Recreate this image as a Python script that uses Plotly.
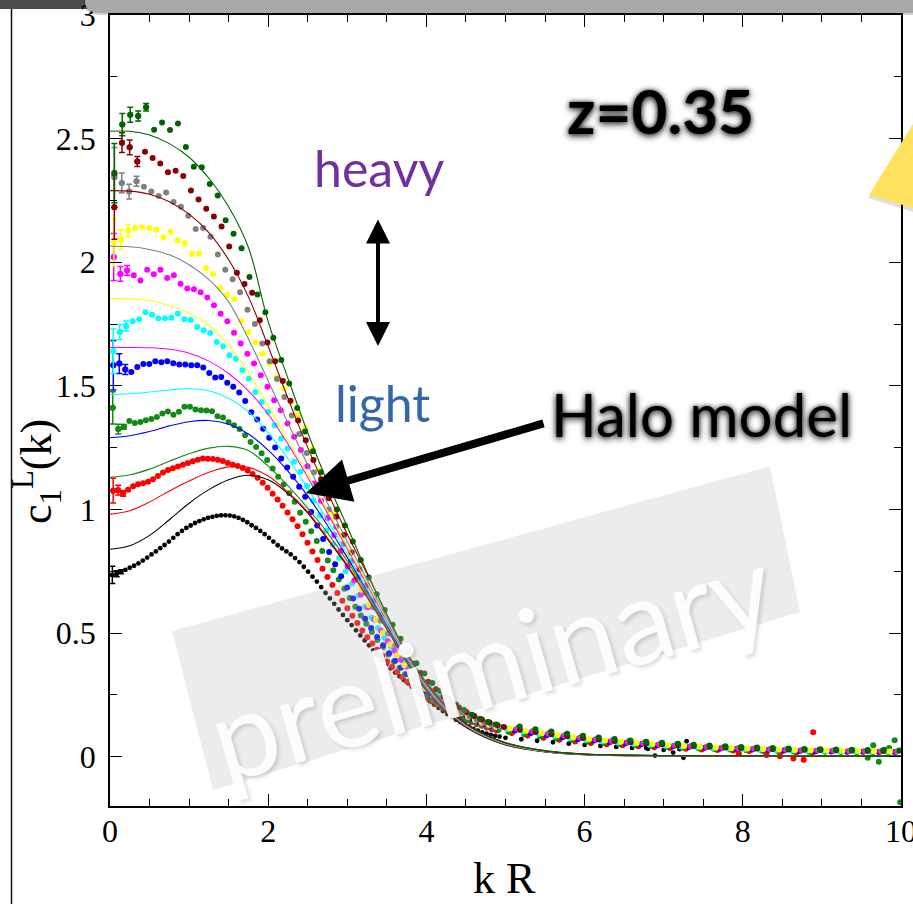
import plotly.graph_objects as go

W, H = 913, 904

# ---------------------------------------------------------------
# Measured c1^L(k) per mass bin (light -> heavy).
# Each bin: values on its own linear kR grid (start, step),
# then values on the tail grid (shifted per bin, since each bin has
# its own R), plus a few scattered points.
# ---------------------------------------------------------------
TAIL_K = [5.1, 5.3, 5.5, 5.7, 5.9, 6.1, 6.3, 6.5, 6.7, 6.9, 7.1, 7.3, 7.5,
          7.7, 7.9, 8.1, 8.3, 8.5, 8.7, 8.9, 9.1, 9.3, 9.5, 9.7, 9.9]

BIN_COLORS = ["#000000", "#ff0000", "#138a13", "#0000ff", "#00ffff",
              "#ff00ff", "#ffff00", "#808080", "#8b0000", "#006400"]
BIN_K0 = [0.03, 0.04, 0.035, 0.042, 0.042, 0.047, 0.05, 0.055, 0.055, 0.055]
BIN_DK = [0.055, 0.063, 0.0697, 0.0758, 0.0816, 0.0845, 0.0895, 0.0935, 0.0968, 0.1005]
BIN_TAIL_SHIFT = [-0.1, -0.02, -0.06, 0.02, -0.08, 0.04, -0.04, 0.06, -0.12, 0.08]

BLACK = [0.735, 0.740, 0.748, 0.755, 0.764, 0.772, 0.782, 0.793, 0.805, 0.818,
         0.830, 0.843, 0.856, 0.870, 0.885, 0.900, 0.913, 0.925, 0.935, 0.945,
         0.953, 0.960, 0.966, 0.970, 0.974, 0.976, 0.976, 0.975, 0.972, 0.966,
         0.958, 0.948, 0.936, 0.925, 0.913, 0.900, 0.885, 0.870, 0.855, 0.842,
         0.830, 0.818, 0.803, 0.787, 0.768, 0.748, 0.728, 0.708, 0.686, 0.662,
         0.640, 0.618, 0.595, 0.573, 0.552, 0.532, 0.511, 0.490, 0.470, 0.450,
         0.430, 0.410, 0.392, 0.374, 0.357, 0.340, 0.325, 0.310, 0.296, 0.281,
         0.267, 0.252, 0.238, 0.224, 0.210, 0.197, 0.184, 0.172, 0.161, 0.150,
         0.140, 0.130, 0.121, 0.112, 0.105, 0.098, 0.093, 0.088, 0.084, 0.081]
RED = [1.076, 1.078, 1.065, 1.080, 1.094, 1.102, 1.106, 1.112, 1.122, 1.135,
       1.149, 1.159, 1.167, 1.174, 1.181, 1.188, 1.195, 1.201, 1.206, 1.205,
       1.204, 1.201, 1.196, 1.188, 1.181, 1.176, 1.168, 1.157, 1.143, 1.128,
       1.108, 1.088, 1.063, 1.040, 1.015, 0.988, 0.960, 0.932, 0.900, 0.865,
       0.830, 0.795, 0.760, 0.727, 0.694, 0.662, 0.630, 0.600, 0.570, 0.540,
       0.510, 0.483, 0.457, 0.432, 0.408, 0.385, 0.363, 0.342, 0.322, 0.303,
       0.285, 0.268, 0.252, 0.237, 0.223, 0.210, 0.198, 0.187, 0.176, 0.166,
       0.157, 0.148, 0.140, 0.132, 0.125, 0.118, 0.111, 0.105]
GREEN = [1.411, 1.325, 1.334, 1.358, 1.350, 1.354, 1.361, 1.366, 1.374, 1.388,
         1.396, 1.383, 1.395, 1.415, 1.415, 1.404, 1.401, 1.400, 1.397, 1.377,
         1.372, 1.354, 1.341, 1.325, 1.300, 1.273, 1.253, 1.227, 1.200, 1.166,
         1.132, 1.101, 1.065, 1.031, 0.987, 0.950, 0.912, 0.872, 0.832, 0.793,
         0.754, 0.716, 0.679, 0.642, 0.606, 0.571, 0.537, 0.504, 0.472, 0.442,
         0.413, 0.385, 0.358, 0.333, 0.310, 0.288, 0.267, 0.248, 0.230, 0.214,
         0.199, 0.185, 0.172, 0.161, 0.151, 0.142, 0.134, 0.127, 0.120, 0.114,
         0.109]
BLUE = [1.583, 1.590, 1.566, 1.556, 1.576, 1.588, 1.588, 1.600, 1.595, 1.600,
        1.591, 1.586, 1.586, 1.583, 1.583, 1.574, 1.552, 1.534, 1.536, 1.513,
        1.496, 1.473, 1.439, 1.393, 1.364, 1.326, 1.290, 1.251, 1.206, 1.170,
        1.132, 1.092, 1.051, 0.990, 0.935, 0.880, 0.828, 0.778, 0.730, 0.684,
        0.640, 0.598, 0.558, 0.520, 0.484, 0.450, 0.418, 0.388, 0.360, 0.334,
        0.310, 0.287, 0.266, 0.247, 0.229, 0.213, 0.198, 0.184, 0.171, 0.160,
        0.150, 0.141, 0.133, 0.125, 0.118]
CYAN = [1.640, 1.718, 1.742, 1.761, 1.769, 1.798, 1.788, 1.774, 1.774, 1.776,
        1.793, 1.769, 1.766, 1.738, 1.725, 1.714, 1.677, 1.660, 1.624, 1.610,
        1.563, 1.529, 1.475, 1.435, 1.395, 1.341, 1.287, 1.247, 1.193, 1.152,
        1.095, 1.035, 0.975, 0.915, 0.858, 0.803, 0.750, 0.700, 0.652, 0.606,
        0.562, 0.520, 0.481, 0.445, 0.411, 0.380, 0.351, 0.324, 0.299, 0.276,
        0.255, 0.236, 0.218, 0.202, 0.187, 0.173, 0.160, 0.148, 0.138, 0.129,
        0.121]
MAGENTA = [2.021, 1.953, 1.967, 1.947, 1.926, 1.970, 1.952, 1.970, 1.936, 1.947,
           1.913, 1.894, 1.891, 1.879, 1.857, 1.826, 1.792, 1.761, 1.715, 1.671,
           1.630, 1.590, 1.543, 1.496, 1.442, 1.401, 1.348, 1.294, 1.240, 1.175,
           1.105, 1.035, 0.965, 0.897, 0.832, 0.770, 0.712, 0.656, 0.604, 0.555,
           0.509, 0.467, 0.428, 0.392, 0.359, 0.329, 0.302, 0.270, 0.245, 0.224,
           0.205, 0.188, 0.172, 0.158, 0.145, 0.134, 0.125, 0.118]
YELLOW = [2.081, 2.092, 2.128, 2.139, 2.142, 2.139, 2.132, 2.101, 2.124, 2.088,
          2.077, 2.034, 2.036, 1.976, 1.953, 1.895, 1.869, 1.850, 1.761, 1.718,
          1.675, 1.630, 1.590, 1.536, 1.489, 1.435, 1.381, 1.328, 1.245, 1.158,
          1.070, 0.983, 0.898, 0.818, 0.744, 0.675, 0.612, 0.555, 0.502, 0.454,
          0.410, 0.370, 0.334, 0.302, 0.274, 0.249, 0.227, 0.207, 0.190, 0.175,
          0.161, 0.149, 0.138, 0.129, 0.121]
GRAY = [2.344, 2.321, 2.286, 2.328, 2.306, 2.286, 2.268, 2.282, 2.244, 2.225,
        2.188, 2.135, 2.139, 2.103, 2.031, 1.970, 1.931, 1.879, 1.808, 1.750,
        1.671, 1.600, 1.528, 1.455, 1.380, 1.305, 1.228, 1.150, 1.075, 1.000,
        0.930, 0.860, 0.790, 0.725, 0.663, 0.604, 0.550, 0.498, 0.450, 0.405,
        0.364, 0.327, 0.294, 0.264, 0.238, 0.215, 0.195, 0.178, 0.163, 0.150,
        0.139, 0.130, 0.122]
DARKRED = [2.223, 2.484, 2.465, 2.408, 2.447, 2.422, 2.400, 2.364, 2.370, 2.349,
           2.290, 2.254, 2.217, 2.185, 2.145, 2.064, 1.958, 1.912, 1.877, 1.765,
           1.675, 1.600, 1.520, 1.440, 1.360, 1.280, 1.200, 1.122, 1.045, 0.970,
           0.897, 0.826, 0.758, 0.693, 0.631, 0.573, 0.518, 0.467, 0.420, 0.377,
           0.338, 0.303, 0.272, 0.244, 0.220, 0.199, 0.180, 0.164, 0.150, 0.138,
           0.128]
DARKGREEN = [2.361, 2.557, 2.597, 2.592, 2.627, 2.536, 2.566, 2.535, 2.561, 2.466,
             2.387, 2.384, 2.317, 2.270, 2.170, 2.115, 2.057, 1.940, 1.870, 1.798,
             1.695, 1.605, 1.510, 1.410, 1.315, 1.235, 1.150, 1.075, 1.000, 0.935,
             0.870, 0.795, 0.725, 0.657, 0.593, 0.533, 0.477, 0.425, 0.378, 0.336,
             0.298, 0.265, 0.236, 0.210, 0.188, 0.169, 0.153, 0.140, 0.130]

BLACK_TAIL = [0.076, 0.070, 0.064, 0.058, 0.052, 0.047, 0.043, 0.039, 0.035, 0.031, 0.027]
RED_TAIL = [0.095, 0.085, 0.076, 0.068, 0.061, 0.055, 0.050, 0.046, 0.042, 0.038,
            0.035, 0.032, 0.029, 0.027, 0.025, 0.023, 0.021, 0.019, 0.017, 0.016]
GREEN_TAIL = [0.100, 0.090, 0.082, 0.074, 0.067, 0.061, 0.056, 0.051, 0.047, 0.043,
              0.040, 0.037, 0.034, 0.031, 0.029, 0.027, 0.025, 0.023, 0.021, 0.020,
              0.019, 0.018, 0.017, 0.016, 0.016]
BLUE_TAIL = [0.105, 0.095, 0.086, 0.078, 0.071, 0.065, 0.059, 0.054, 0.050, 0.046,
             0.042, 0.039, 0.036, 0.033, 0.031, 0.029, 0.027, 0.025, 0.023, 0.022,
             0.021, 0.020, 0.019, 0.018, 0.018]
CYAN_TAIL = [0.112, 0.101, 0.091, 0.083, 0.075, 0.068, 0.062, 0.057, 0.052, 0.048,
             0.044, 0.041, 0.038, 0.035, 0.033, 0.031, 0.029, 0.027, 0.025, 0.024,
             0.023, 0.022, 0.021, 0.020, 0.020]
MAGENTA_TAIL = [0.112, 0.102, 0.092, 0.084, 0.076, 0.069, 0.063, 0.058, 0.053, 0.049,
                0.045, 0.042, 0.039, 0.036, 0.034, 0.032, 0.030, 0.028, 0.026, 0.025,
                0.024, 0.023, 0.022, 0.021, 0.020]
YELLOW_TAIL = [0.114, 0.104, 0.094, 0.086, 0.078, 0.071, 0.065, 0.060, 0.055, 0.051,
               0.047, 0.043, 0.040, 0.037, 0.035, 0.033, 0.031, 0.029, 0.027, 0.026,
               0.025, 0.024, 0.023, 0.022, 0.021]
GRAY_TAIL = [0.116, 0.106, 0.096, 0.088, 0.080, 0.073, 0.067, 0.062, 0.057, 0.052,
             0.048, 0.045, 0.042, 0.039, 0.036, 0.034, 0.032, 0.030, 0.028, 0.027,
             0.026, 0.025, 0.024, 0.023, 0.022]
DARKRED_TAIL = [0.120, 0.109, 0.099, 0.090, 0.082, 0.075, 0.069, 0.063, 0.058, 0.054,
                0.050, 0.046, 0.043, 0.040, 0.037, 0.035, 0.033, 0.031, 0.029, 0.028,
                0.027, 0.026, 0.025, 0.024, 0.023]
DARKGREEN_TAIL = [0.122, 0.111, 0.101, 0.092, 0.084, 0.077, 0.071, 0.065, 0.060, 0.056,
                  0.052, 0.048, 0.045, 0.042, 0.039, 0.037, 0.035, 0.033, 0.031, 0.030,
                  0.029, 0.028, 0.027, 0.026, 0.025]

# noisy points at the end of the light bins
BLACK_EXTRA_K = [6.78, 6.89, 7.12, 7.20, 7.25, 7.29]
BLACK_EXTRA_V = [0.035, 0.004, 0.016, 0.030, -0.005, 0.062]
RED_EXTRA_K = [7.95, 8.30, 8.47, 8.64, 8.77, 8.89]
RED_EXTRA_V = [0.012, 0.006, 0.001, -0.008, -0.013, 0.098]
GREEN_EXTRA_K = [9.58, 9.65, 9.72, 9.79, 9.85, 9.92, 9.99]
GREEN_EXTRA_V = [-0.005, 0.046, -0.021, 0.028, 0.035, 0.066, -0.185]

# error bars on the lowest-k points of each bin
BLACK_ERR = [0.035, 0.012, 0.008]
RED_ERR = [0.05, 0.02, 0.012]
GREEN_ERR = [0.065, 0.02, 0.01]
BLUE_ERR = [0.10, 0.04, 0.02]
CYAN_ERR = [0.09, 0.03, 0.02]
MAGENTA_ERR = [0.095, 0.03, 0.02]
YELLOW_ERR = [0.095, 0.04, 0.025]
GRAY_ERR = [0.12, 0.04, 0.03, 0.02]
DARKRED_ERR = [0.13, 0.04, 0.03, 0.02]
DARKGREEN_ERR = [0.12, 0.045, 0.03, 0.02, 0.015]

# Halo-model prediction per bin
LINE_K = [0, 0.25, 0.5, 0.75, 1.0, 1.25, 1.5, 1.75, 2.0, 2.25, 2.5, 2.75, 3.0,
          3.25, 3.5, 3.75, 4.0, 4.25, 4.5, 4.75, 5.0, 5.5, 6, 7, 8, 9, 10]
BLACK_L = [0.839, 0.853, 0.895, 0.958, 1.025, 1.080, 1.120, 1.138, 1.120, 1.065, 0.985,
           0.880, 0.770, 0.645, 0.515, 0.383, 0.267, 0.182, 0.118, 0.076, 0.047,
           0.019, 0.008, 0.003, 0.002, 0.001, 0.001]
RED_L = [0.981, 0.995, 1.030, 1.075, 1.115, 1.150, 1.172, 1.170, 1.135, 1.070, 0.990,
         0.885, 0.775, 0.650, 0.520, 0.387, 0.270, 0.184, 0.120, 0.078, 0.048,
         0.020, 0.008, 0.003, 0.002, 0.001, 0.001]
GREEN_L = [1.130, 1.140, 1.163, 1.195, 1.225, 1.248, 1.255, 1.238, 1.175, 1.095, 1.005,
           0.905, 0.790, 0.660, 0.525, 0.390, 0.273, 0.186, 0.122, 0.079, 0.049,
           0.020, 0.009, 0.003, 0.002, 0.001, 0.001]
BLUE_L = [1.290, 1.298, 1.315, 1.338, 1.355, 1.360, 1.345, 1.305, 1.240, 1.155, 1.055,
          0.935, 0.805, 0.670, 0.532, 0.395, 0.277, 0.188, 0.123, 0.080, 0.050,
          0.021, 0.009, 0.004, 0.002, 0.002, 0.001]
CYAN_L = [1.465, 1.468, 1.475, 1.483, 1.488, 1.480, 1.450, 1.395, 1.310, 1.205, 1.085,
          0.955, 0.820, 0.680, 0.540, 0.400, 0.280, 0.190, 0.125, 0.081, 0.051,
          0.021, 0.009, 0.004, 0.002, 0.002, 0.001]
MAGENTA_L = [1.655, 1.655, 1.654, 1.648, 1.632, 1.600, 1.550, 1.480, 1.385, 1.265, 1.130,
             0.985, 0.840, 0.695, 0.550, 0.405, 0.283, 0.192, 0.126, 0.082, 0.052,
             0.022, 0.009, 0.004, 0.002, 0.002, 0.001]
YELLOW_L = [1.853, 1.852, 1.845, 1.825, 1.795, 1.745, 1.665, 1.555, 1.420, 1.280, 1.140,
            0.995, 0.850, 0.705, 0.555, 0.410, 0.287, 0.195, 0.128, 0.083, 0.053,
            0.022, 0.010, 0.004, 0.003, 0.002, 0.002]
GRAY_L = [2.065, 2.063, 2.052, 2.030, 1.990, 1.930, 1.840, 1.690, 1.520, 1.350, 1.180,
          1.025, 0.870, 0.715, 0.562, 0.413, 0.290, 0.197, 0.130, 0.084, 0.054,
          0.022, 0.010, 0.004, 0.003, 0.002, 0.002]
DARKRED_L = [2.290, 2.288, 2.275, 2.245, 2.195, 2.120, 2.010, 1.860, 1.660, 1.450, 1.250,
             1.070, 0.900, 0.740, 0.575, 0.420, 0.295, 0.200, 0.132, 0.086, 0.055,
             0.023, 0.010, 0.004, 0.003, 0.002, 0.002]
DARKGREEN_L = [2.530, 2.530, 2.515, 2.480, 2.425, 2.340, 2.225, 2.060, 1.760, 1.530, 1.310,
               1.110, 0.930, 0.745, 0.575, 0.420, 0.300, 0.205, 0.135, 0.088, 0.057,
               0.024, 0.010, 0.004, 0.003, 0.002, 0.002]

BINS = [
    (BLACK, BLACK_TAIL, BLACK_EXTRA_K, BLACK_EXTRA_V, BLACK_ERR, BLACK_L),
    (RED, RED_TAIL, RED_EXTRA_K, RED_EXTRA_V, RED_ERR, RED_L),
    (GREEN, GREEN_TAIL, GREEN_EXTRA_K, GREEN_EXTRA_V, GREEN_ERR, GREEN_L),
    (BLUE, BLUE_TAIL, [], [], BLUE_ERR, BLUE_L),
    (CYAN, CYAN_TAIL, [], [], CYAN_ERR, CYAN_L),
    (MAGENTA, MAGENTA_TAIL, [], [], MAGENTA_ERR, MAGENTA_L),
    (YELLOW, YELLOW_TAIL, [], [], YELLOW_ERR, YELLOW_L),
    (GRAY, GRAY_TAIL, [], [], GRAY_ERR, GRAY_L),
    (DARKRED, DARKRED_TAIL, [], [], DARKRED_ERR, DARKRED_L),
    (DARKGREEN, DARKGREEN_TAIL, [], [], DARKGREEN_ERR, DARKGREEN_L),
]

fig = go.Figure()

# measured points
for i, (near, tail, ek, ev, err, _) in enumerate(BINS):
    col = BIN_COLORS[i]
    xs = ([BIN_K0[i] + BIN_DK[i] * j for j in range(len(near))]
          + [k + BIN_TAIL_SHIFT[i] for k in TAIL_K[:len(tail)]] + ek)
    ys = near + tail + ev
    size = 4.8 if i == 0 else 6
    fig.add_trace(go.Scatter(x=xs, y=ys, mode="markers",
                             marker=dict(color=col, size=size, line=dict(width=0)),
                             hoverinfo="skip"))
    n = len(err)
    fig.add_trace(go.Scatter(x=xs[:n], y=ys[:n], mode="markers",
                             marker=dict(color=col, size=size, line=dict(width=0)),
                             error_y=dict(type="data", array=err, color=col,
                                          thickness=1.5, width=3),
                             hoverinfo="skip"))

# halo-model curves
for i, (_, _, _, _, _, line) in enumerate(BINS):
    fig.add_trace(go.Scatter(x=LINE_K, y=line, mode="lines",
                             line=dict(color=BIN_COLORS[i], width=1.1, shape="spline"),
                             hoverinfo="skip"))


def px(v):
    return v / W


def py(v):
    return 1 - v / H


shapes = []
# slide header bar and frame
shapes.append(dict(type="rect", xref="paper", yref="paper", x0=px(0), x1=px(92),
                   y0=py(9), y1=py(0), fillcolor="#4d4d4d", line=dict(width=0), layer="below"))
shapes.append(dict(type="path", xref="paper", yref="paper",
                   path=(f"M {px(84)},{py(0)} L {px(913)},{py(0)} L {px(913)},{py(15)} "
                         f"L {px(100)},{py(15)} Q {px(84)},{py(15)} {px(84)},{py(2)} Z"),
                   fillcolor="rgba(0,0,0,0.18)", line=dict(width=0), layer="above"))
shapes.append(dict(type="path", xref="paper", yref="paper",
                   path=(f"M {px(85)},{py(0)} L {px(913)},{py(0)} L {px(913)},{py(13)} "
                         f"L {px(100)},{py(13)} Q {px(85)},{py(13)} {px(85)},{py(1)} Z"),
                   fillcolor="#a9a9a9", line=dict(width=0), layer="above"))
shapes.append(dict(type="line", xref="paper", yref="paper", x0=px(11.5), x1=px(11.5),
                   y0=py(9), y1=py(904), line=dict(color="#111111", width=1.5)))
# yellow callout corner at the right edge
shapes.append(dict(type="path", xref="paper", yref="paper",
                   path=f"M {px(868)},{py(198)} L {px(913)},{py(126)} L {px(913)},{py(212)} Z",
                   fillcolor="rgba(0,0,0,0.12)", line=dict(width=0)))
shapes.append(dict(type="path", xref="paper", yref="paper",
                   path=f"M {px(869)},{py(195)} L {px(913)},{py(124)} L {px(913)},{py(208)} Z",
                   fillcolor="#ffe25e", line=dict(width=0)))
# "preliminary" banner
shapes.append(dict(type="path", xref="paper", yref="paper",
                   path=(f"M {px(172)},{py(631)} L {px(770)},{py(466)} "
                         f"L {px(800)},{py(612)} L {px(213)},{py(790)} Z"),
                   fillcolor="rgba(185,185,185,0.27)", line=dict(width=0), layer="above"))

serif = "Liberation Serif"
sans = "Lato"
glow = "0px 2px 7px rgba(0,0,0,0.85), 0px 0px 4px rgba(0,0,0,0.6)"


def label(xp, yp, text, font, angle=0):
    return dict(x=px(xp), y=py(yp), xref="paper", yref="paper", text=text,
                xanchor="center", yanchor="middle", textangle=angle,
                showarrow=False, font=font)


ann = [
    label(504, 878, "k R", dict(family=serif, size=44, color="black")),
    label(37, 472, "c<sub>1</sub><sup>L</sup>(k)", dict(family=serif, size=44, color="black"), -90),
    label(660, 110, "<b>z=0.35</b>", dict(family=sans, size=62, color="black", shadow=glow)),
    label(379, 168, "heavy", dict(family=sans, size=50, color="#7030a0")),
    label(382, 403, "light", dict(family=sans, size=50, color="#3566a6")),
    label(701, 414, "Halo model", dict(family=sans, size=60, color="black", shadow=glow)),
    label(490, 660, "preliminary", dict(family=sans, size=118,
                                        color="rgba(255,255,255,0.93)",
                                        shadow="2px 3px 4px rgba(0,0,0,0.15)"), -16),
]
# heavy <-> light double arrow
ann.append(dict(x=px(378), y=py(346), xref="paper", yref="paper", text="",
                showarrow=True, ax=0, ay=-128, axref="pixel", ayref="pixel",
                arrowside="end+start", arrowhead=2, startarrowhead=2,
                arrowsize=1.2, startarrowsize=1.2, arrowwidth=4, arrowcolor="black"))
# arrow pointing at the model curves
ann.append(dict(x=px(306), y=py(493), xref="paper", yref="paper", text="",
                showarrow=True, ax=239, ay=-70, axref="pixel", ayref="pixel",
                arrowhead=2, arrowsize=1.1, arrowwidth=8, arrowcolor="black"))

tickfont = dict(family=serif, size=32, color="black")
fig.update_layout(
    width=W, height=H, margin=dict(l=0, r=0, t=0, b=0, autoexpand=False),
    paper_bgcolor="white", plot_bgcolor="white", showlegend=False,
    shapes=shapes, annotations=ann,
    xaxis=dict(domain=[110 / W, 901 / W], range=[0, 10.0005], tickvals=[0, 2, 4, 6, 8, 10],
               automargin=False, ticklabeloverflow="allow",
               showgrid=False, zeroline=False, showline=True, linecolor="black",
               linewidth=1.5, mirror="ticks", ticks="inside", ticklen=12,
               tickwidth=1.2, tickcolor="black", tickfont=tickfont,
               ticklabelstandoff=-4,
               minor=dict(ticks="inside", dtick=0.5, ticklen=7, tickwidth=1.2,
                          tickcolor="black", showgrid=False)),
    yaxis=dict(domain=[1 - 806 / H, 1 - 15 / H], range=[-0.2, 3.0005],
               tickvals=[0, 0.5, 1, 1.5, 2, 2.5, 3],
               automargin=False, ticklabeloverflow="allow",
               showgrid=False, zeroline=False, showline=True, linecolor="black",
               linewidth=1.5, mirror="ticks", ticks="inside", ticklen=12,
               tickwidth=1.2, tickcolor="black", tickfont=tickfont,
               ticklabelstandoff=6,
               minor=dict(ticks="inside", dtick=0.25, ticklen=7, tickwidth=1.2,
                          tickcolor="black", showgrid=False)),
)

fig.write_html("out.html")
